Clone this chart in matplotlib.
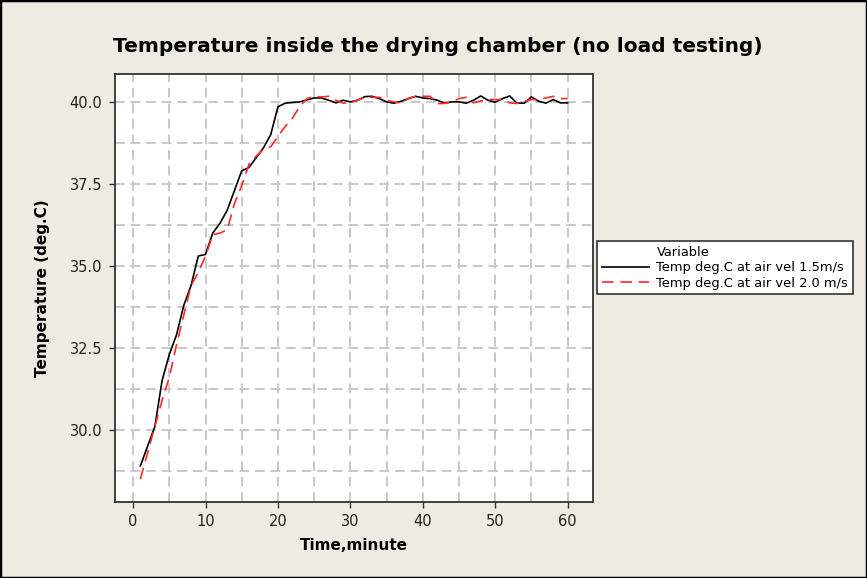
import matplotlib
matplotlib.use('Agg')
import matplotlib.pyplot as plt
from matplotlib.lines import Line2D
from matplotlib.patches import Rectangle
from matplotlib.ticker import MultipleLocator

plt.rcParams['font.family'] = ['DejaVu Sans']

# 数据：时间（分钟）与两个风速下的温度
minutes = list(range(1, 61))
temp_15 = [28.9, 29.5, 30.1, 31.5, 32.3, 32.9, 33.8, 34.4, 35.3, 35.35,
           36.0, 36.3, 36.7, 37.3, 37.9, 38.0, 38.3, 38.6, 39.0, 39.85,
           39.96, 39.98, 40.0, 40.06, 40.12, 40.12, 40.05, 39.97, 40.05, 40.0,
           40.05, 40.16, 40.17, 40.1, 40.0, 39.96, 40.02, 40.1, 40.17, 40.12,
           40.1, 40.05, 39.96, 40.0, 40.0, 39.96, 40.05, 40.18, 40.05, 39.99,
           40.1, 40.18, 39.96, 39.96, 40.15, 40.02, 39.96, 40.07, 39.97, 39.97]
temp_20 = [28.5, 29.3, 30.1, 30.9, 31.6, 32.6, 33.5, 34.4, 34.8, 35.3,
           35.95, 36.0, 36.1, 36.9, 37.45, 38.1, 38.35, 38.55, 38.63, 38.95,
           39.25, 39.5, 39.86, 40.1, 40.17, 40.15, 40.17, 40.05, 39.96, 39.98,
           40.05, 40.14, 40.14, 40.14, 40.05, 40.0, 39.96, 40.1, 40.17, 40.17,
           40.17, 39.95, 39.95, 40.0, 40.1, 40.14, 39.97, 40.03, 40.07, 40.07,
           40.07, 39.97, 39.95, 40.02, 40.07, 40.07, 40.12, 40.17, 40.1, 40.1]

bg = '#efebe2'
fig = plt.figure(figsize=(8.67, 5.78), dpi=100, facecolor=bg)
ax = fig.add_axes([115/867, 1 - 502/578, (593 - 115)/867, (502 - 74)/578])
ax.set_facecolor('white')

ax.plot(minutes, temp_15, color='black', lw=1.2, label='Temp deg.C at air vel 1.5m/s')
ax.plot(minutes, temp_20, color='#ff2a2a', lw=1.2, linestyle=(0, (7, 4)),
        label='Temp deg.C at air vel 2.0 m/s')

ax.set_xlim(-2.5, 63.5)
ax.set_ylim(27.8, 40.85)
ax.xaxis.set_major_locator(MultipleLocator(10))
ax.xaxis.set_minor_locator(MultipleLocator(5))
ax.yaxis.set_major_locator(MultipleLocator(2.5))
ax.yaxis.set_minor_locator(MultipleLocator(1.25))
ax.yaxis.set_major_formatter(matplotlib.ticker.FormatStrFormatter('%.1f'))
ax.grid(True, which='both', color='#c8c8c8', linestyle=(0, (5, 3)), lw=1.4)
ax.set_axisbelow(True)
ax.tick_params(which='major', length=4, width=1, colors='#333333', labelsize=10.5,
               labelcolor='#222222', pad=5)
ax.tick_params(which='minor', length=0)
for s in ax.spines.values():
    s.set_color('#333333')
    s.set_linewidth(1.3)

ax.set_xlabel('Time,minute', fontsize=11, fontweight='bold', labelpad=6)
ax.set_ylabel('Temperature (deg.C)', fontsize=11, fontweight='bold', labelpad=14)
fig.text(0.505, 1 - 46/578, 'Temperature inside the drying chamber (no load testing)',
         ha='center', va='center', fontsize=14.5, fontweight='bold')

# 图例（"Variable" 作为无线条的条目）
handles, labels = ax.get_legend_handles_labels()
title_h = Line2D([], [], color='none')
leg = fig.legend([title_h] + handles, ['Variable'] + labels,
                 loc='upper left', bbox_to_anchor=(597/867, 1 - 241/578),
                 fontsize=9.4, frameon=True, fancybox=False, framealpha=1,
                 edgecolor='#333333', handlelength=3.6, handletextpad=0.6,
                 labelspacing=0.2, borderpad=0.35, borderaxespad=0)
leg.get_frame().set_linewidth(1.2)

fig.patches.append(Rectangle((0, 0), 1, 1, transform=fig.transFigure,
                             fill=False, edgecolor='black', lw=2.5))

plt.savefig('out.png', dpi=100, facecolor=bg)
plt.close()
